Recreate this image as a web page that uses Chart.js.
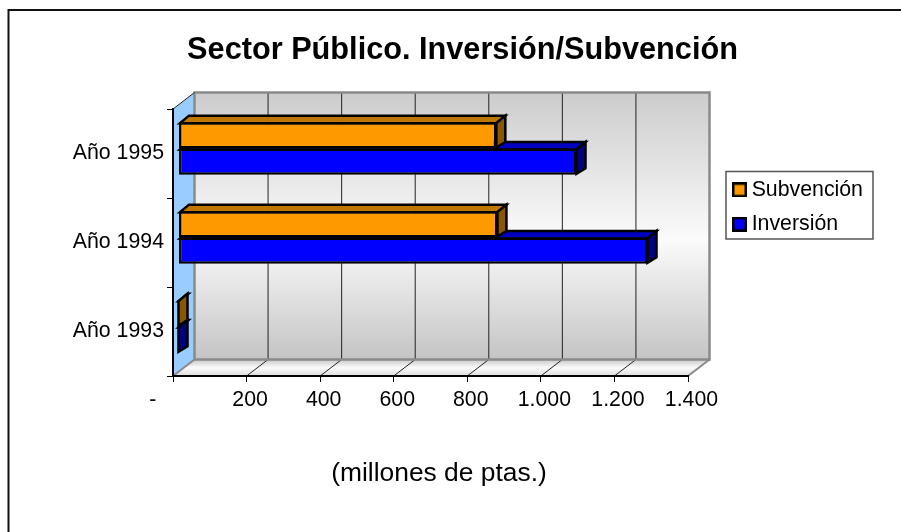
<!DOCTYPE html>
<html>
<head>
<meta charset="utf-8">
<title>Sector Público</title>
<script src="https://cdn.jsdelivr.net/npm/chart.js@4"></script>
<style>
  html, body { margin: 0; background: #fff; overflow: hidden; }
  canvas { display: block; }
</style>
</head>
<body>
<canvas id="inversionChart" width="901" height="532"></canvas>
<script>
// ---- data ----
const years = ["Año 1995", "Año 1994", "Año 1993"];
const subvencion = [864, 867, 0];
const inversion = [1082, 1275, 0];
const xTickLabels = ["-", "200", "400", "600", "800", "1.000", "1.200", "1.400"];
const chartTitle = "Sector Público. Inversión/Subvención";
const unitsTitle = "(millones de ptas.)";

// ---- 3D look ----
const FONT = "'Liberation Sans', Arial, sans-serif";
const WALL_DX = 21.5, WALL_DY = -16.5;  // front plane -> back wall
const BAR_DX = 5.5, BAR_DY = -5;        // front plane -> bars
const FACE_DX = 9, FACE_DY = -6.5;      // depth of a bar
const faceColors = [
  { top: "#bf7700", side: "#8a5600" },  // Subvención
  { top: "#0000c0", side: "#000080" }   // Inversión
];

// Legend swatch as a small canvas so the text can sit close to it
function swatch(color) {
  const c = document.createElement("canvas");
  c.width = 15;
  c.height = 15;
  const g = c.getContext("2d");
  g.fillStyle = color;
  g.fillRect(0, 0, 15, 15);
  g.strokeStyle = "#000";
  g.lineWidth = 2.5;
  g.strokeRect(1.25, 1.25, 12.5, 12.5);
  return c;
}

function polygon(ctx, pts, fill, stroke, width) {
  ctx.beginPath();
  pts.forEach((p, i) => (i ? ctx.lineTo(p[0], p[1]) : ctx.moveTo(p[0], p[1])));
  ctx.closePath();
  if (fill) {
    ctx.fillStyle = fill;
    ctx.fill();
  }
  if (stroke) {
    ctx.strokeStyle = stroke;
    ctx.lineWidth = width;
    ctx.stroke();
  }
}

const box3d = {
  id: "box3d",
  beforeDraw(chart) {
    const { ctx, chartArea: a, scales: { x } } = chart;
    const backL = a.left + WALL_DX, backR = a.right + WALL_DX;
    const backT = a.top + WALL_DY, backB = a.bottom + WALL_DY;

    // title blocks are centred on the frame, not on the canvas
    chart.titleBlock.left = 24;
    chart.titleBlock.right = 901;
    chart.boxes.forEach(b => {
      if (b.options && b.options.text === unitsTitle) {
        b.left = 8;
        b.right = 870;
      }
    });
    chart.legend.left = 725;
    chart.legend.right = 883;
    chart.legend.top = 166.2;
    chart.legend.bottom = 300;

    ctx.save();
    // outer frame: only top and left are in the picture
    ctx.strokeStyle = "#111";
    ctx.lineWidth = 2;
    ctx.beginPath();
    ctx.moveTo(8.5, 532);
    ctx.lineTo(8.5, 10);
    ctx.lineTo(901, 10);
    ctx.stroke();

    // back wall
    const wall = ctx.createLinearGradient(0, backT, 0, backB);
    wall.addColorStop(0, "#cccccc");
    wall.addColorStop(0.55, "#fbfbfb");
    wall.addColorStop(1, "#c4c4c4");
    ctx.fillStyle = wall;
    ctx.fillRect(backL, backT, backR - backL, backB - backT);

    // floor
    const floor = ctx.createLinearGradient(0, backB, 0, a.bottom);
    floor.addColorStop(0, "#c8c8c8");
    floor.addColorStop(0.5, "#fbfbfb");
    floor.addColorStop(1, "#dddddd");
    polygon(ctx, [[a.left, a.bottom], [backL, backB], [backR, backB], [a.right, a.bottom]], floor);

    // left wall
    polygon(ctx, [[a.left, a.top], [backL, backT], [backL, backB], [a.left, a.bottom]], "#99ccff");

    // grid lines on the wall and their diagonals on the floor
    ctx.strokeStyle = "#222";
    ctx.lineWidth = 1;
    x.ticks.forEach((t, i) => {
      if (i === 0 || i === x.ticks.length - 1) return;
      const px = x.getPixelForValue(t.value);
      ctx.beginPath();
      ctx.moveTo(px, a.bottom);
      ctx.lineTo(px + WALL_DX, backB);
      ctx.lineTo(px + WALL_DX, backT);
      ctx.stroke();
    });

    // gray edges of the box
    ctx.strokeStyle = "#8a8a8a";
    ctx.lineWidth = 2.5;
    ctx.strokeRect(backL, backT, backR - backL, backB - backT);
    ctx.lineWidth = 2;
    ctx.beginPath();
    ctx.moveTo(a.right, a.bottom);
    ctx.lineTo(backR, backB);
    ctx.moveTo(a.left, a.bottom);
    ctx.lineTo(backL, backB);
    ctx.stroke();
    ctx.strokeStyle = "#222";
    ctx.lineWidth = 1;
    ctx.beginPath();
    ctx.moveTo(a.left, a.top);
    ctx.lineTo(backL, backT);
    ctx.stroke();
    ctx.restore();
  },
  beforeDatasetDraw(chart, args) {
    const ctx = chart.ctx;
    const colors = faceColors[args.index];
    ctx.save();
    ctx.translate(BAR_DX, BAR_DY);
    // top and end faces of each bar, the library draws the front on top
    args.meta.data.forEach(bar => {
      const top = bar.y - bar.height / 2, bottom = bar.y + bar.height / 2;
      polygon(ctx, [[bar.base + 1, top + 1], [bar.base + 1 + FACE_DX, top + FACE_DY], [bar.x + FACE_DX, top + FACE_DY], [bar.x, top + 1]],
        colors.top, "#000", 2.5);
      polygon(ctx, [[bar.x, top + 1], [bar.x + FACE_DX, top + FACE_DY], [bar.x + FACE_DX, bottom + FACE_DY], [bar.x, bottom - 1]],
        colors.side, "#000", 2.5);
    });
  },
  afterDatasetDraw(chart) {
    chart.ctx.restore();
  },
  afterDraw(chart) {
    // frame around the legend
    const ctx = chart.ctx;
    ctx.save();
    ctx.strokeStyle = "#555";
    ctx.lineWidth = 1.5;
    ctx.strokeRect(726, 171.5, 147, 67.5);
    ctx.restore();
  }
};

// ---- chart ----
new Chart(document.getElementById("inversionChart"), {
  type: "bar",
  plugins: [box3d],
  data: {
    labels: years,
    datasets: [
      { label: "Subvención", data: subvencion, backgroundColor: "#ff9900" },
      { label: "Inversión", data: inversion, backgroundColor: "#0000ff" }
    ]
  },
  options: {
    indexAxis: "y",
    responsive: false,
    animation: false,
    layout: { padding: { top: 0, right: 213, bottom: 0, left: 0 } },
    datasets: {
      bar: {
        barPercentage: 1,
        categoryPercentage: 0.592,
        borderColor: "#000",
        borderWidth: 2.5,
        borderSkipped: false
      }
    },
    plugins: {
      tooltip: { enabled: false },
      title: {
        display: true,
        text: chartTitle,
        color: "#000",
        font: { family: FONT, size: 30.7, weight: "bold", lineHeight: 1 },
        padding: { top: 35.6, bottom: 42.7 }
      },
      subtitle: {
        display: true,
        position: "bottom",
        text: unitsTitle,
        color: "#000",
        font: { family: FONT, size: 26.4, weight: "normal", lineHeight: 1 },
        padding: { top: 34.8, bottom: 44.8 }
      },
      legend: {
        position: "chartArea",
        align: "start",
        labels: {
          usePointStyle: true,
          pointStyleWidth: 3,
          color: "#000",
          font: { family: FONT, size: 21.3 },
          padding: 13,
          generateLabels: chart => chart.data.datasets.map((ds, i) => ({
            text: ds.label,
            datasetIndex: i,
            pointStyle: swatch(ds.backgroundColor),
            fontColor: "#000"
          }))
        }
      }
    },
    scales: {
      x: {
        min: 0,
        max: 1400,
        afterFit: scale => { scale.height = 50; },
        grid: { drawOnChartArea: false, color: "#000", tickLength: 6 },
        border: { color: "#000", width: 2 },
        ticks: {
          stepSize: 200,
          color: "#000",
          padding: 5,
          labelOffset: 3.5,
          maxRotation: 0,
          autoSkip: false,
          font: { family: FONT, size: 21.3 },
          // the zero label sits left of its tick, padded like the original number format
          callback: (value, i) => (i === 0 ? xTickLabels[i] + " ".repeat(8) : xTickLabels[i])
        }
      },
      y: {
        afterFit: scale => { scale.width = 173; },
        grid: { drawOnChartArea: false, offset: true, color: "#000", tickLength: 6 },
        border: { color: "#000", width: 2 },
        ticks: {
          color: "#000",
          padding: 3,
          font: { family: FONT, size: 21.3 }
        }
      }
    }
  }
});
</script>
</body>
</html>
